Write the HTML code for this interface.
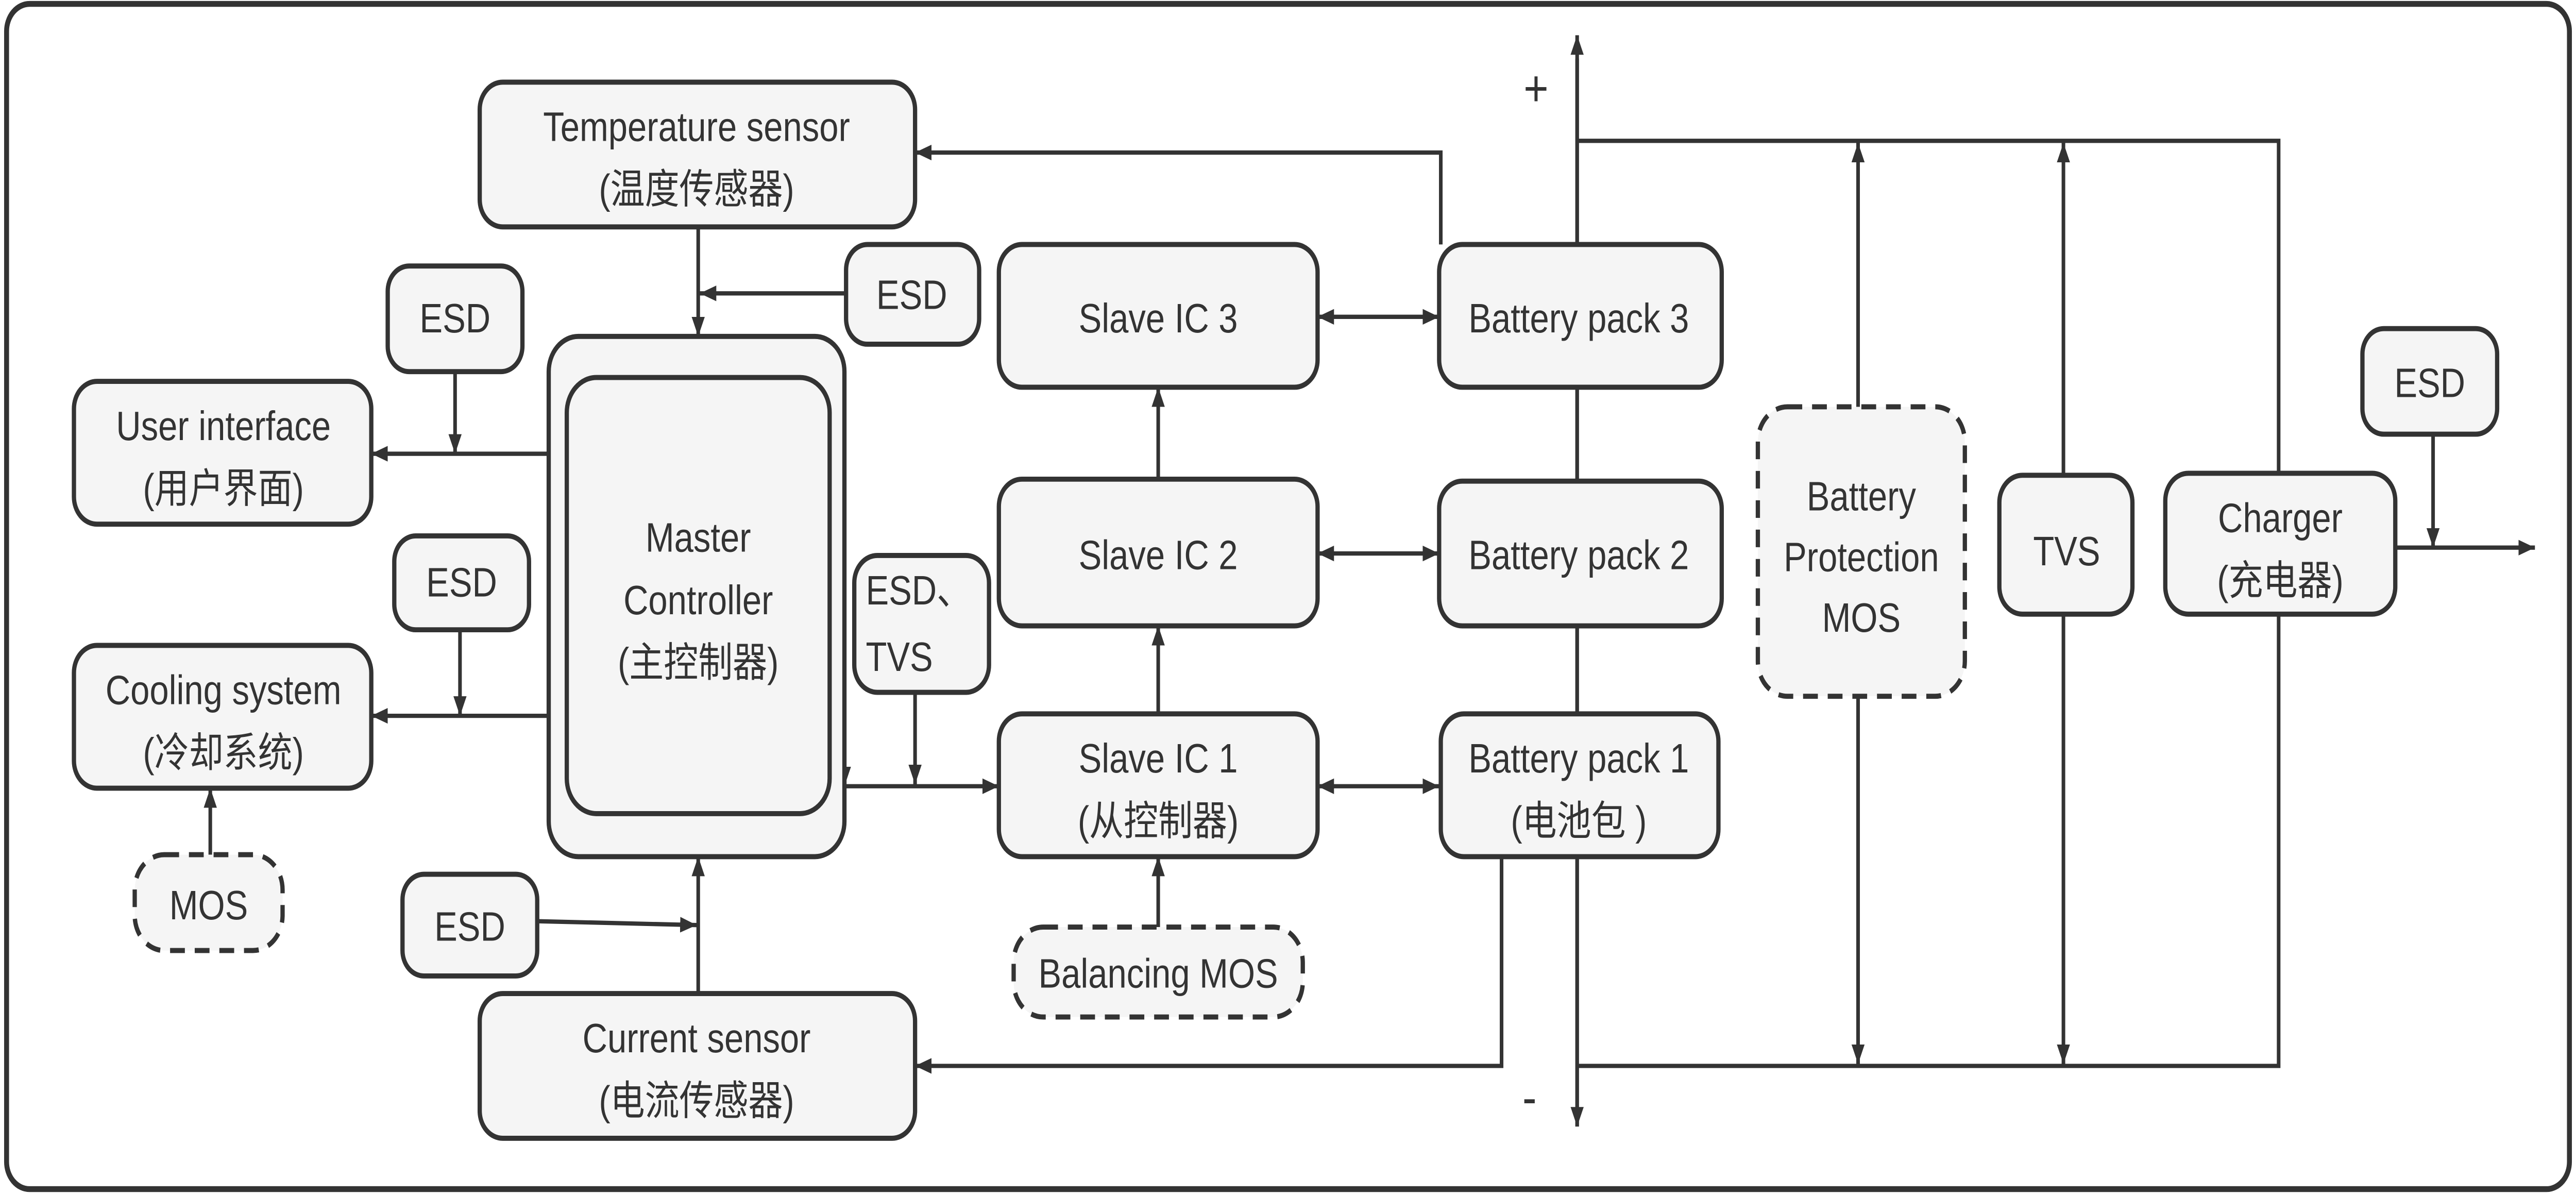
<!DOCTYPE html>
<html><head><meta charset="utf-8"><style>html,body{margin:0;padding:0;background:#fff;width:100%;height:100%;overflow:hidden}svg{display:block;width:100vw;height:100vh}</style></head>
<body>
<svg viewBox="0 0 1568 611" preserveAspectRatio="none" xmlns="http://www.w3.org/2000/svg">
<defs>
<marker id="a" viewBox="0 0 10 8" refX="10" refY="4" markerWidth="10" markerHeight="8" markerUnits="userSpaceOnUse" orient="auto-start-reverse"><path d="M0,0L10,4L0,8z" fill="#333"/></marker>
</defs>
<rect x="4" y="2" width="1560" height="606" rx="14" fill="#fff" stroke="#333" stroke-width="3"/>
<g stroke="#333" stroke-width="2.2" fill="none">
<line x1="960" y1="576" x2="960" y2="18" marker-end="url(#a)"/>
<line x1="960" y1="30" x2="960" y2="576" marker-end="url(#a)"/>
<polyline points="960,72 1387,72 1387,545 960,545"/>
<line x1="1131" y1="208" x2="1131" y2="73" marker-end="url(#a)"/>
<line x1="1131" y1="356" x2="1131" y2="544" marker-end="url(#a)"/>
<line x1="1256" y1="243" x2="1256" y2="73" marker-end="url(#a)"/>
<line x1="1256" y1="314" x2="1256" y2="544" marker-end="url(#a)"/>
<line x1="1458" y1="280" x2="1543" y2="280" marker-end="url(#a)"/>
<line x1="1481" y1="222" x2="1481" y2="280" marker-end="url(#a)"/>
<polyline points="877,125 877,78 557,78" marker-end="url(#a)"/>
<line x1="425" y1="116" x2="425" y2="172" marker-end="url(#a)"/>
<line x1="515" y1="150" x2="426" y2="150" marker-end="url(#a)"/>
<line x1="277" y1="190" x2="277" y2="232" marker-end="url(#a)"/>
<line x1="334" y1="232" x2="226" y2="232" marker-end="url(#a)"/>
<line x1="280" y1="322" x2="280" y2="366" marker-end="url(#a)"/>
<line x1="334" y1="366" x2="226" y2="366" marker-end="url(#a)"/>
<line x1="128" y1="437" x2="128" y2="403" marker-end="url(#a)"/>
<line x1="327" y1="471" x2="424" y2="473" marker-end="url(#a)"/>
<line x1="425" y1="508" x2="425" y2="438" marker-end="url(#a)"/>
<line x1="514" y1="388" x2="514" y2="402" marker-end="url(#a)"/>
<line x1="514" y1="402" x2="608" y2="402" marker-end="url(#a)"/>
<line x1="557" y1="354" x2="557" y2="401" marker-end="url(#a)"/>
<line x1="705" y1="365" x2="705" y2="320" marker-end="url(#a)"/>
<line x1="705" y1="245" x2="705" y2="198" marker-end="url(#a)"/>
<line x1="705" y1="474" x2="705" y2="438" marker-end="url(#a)"/>
<line x1="802" y1="162" x2="876" y2="162" marker-start="url(#a)" marker-end="url(#a)"/>
<line x1="802" y1="283" x2="876" y2="283" marker-start="url(#a)" marker-end="url(#a)"/>
<line x1="802" y1="402" x2="876" y2="402" marker-start="url(#a)" marker-end="url(#a)"/>
<polyline points="914,438 914,545 557,545" marker-end="url(#a)"/>
</g>
<g fill="#f5f5f5" stroke="#333" stroke-width="2.6">
<rect x="292" y="42" width="265" height="74" rx="14"/>
<rect x="515" y="125" width="81" height="51" rx="13"/>
<rect x="236" y="136" width="82" height="54" rx="13"/>
<rect x="45" y="195" width="181" height="73" rx="14"/>
<rect x="334" y="172" width="180" height="266" rx="18"/>
<rect x="345" y="193" width="160" height="223" rx="18"/>
<rect x="240" y="274" width="82" height="48" rx="13"/>
<rect x="45" y="330" width="181" height="73" rx="14"/>
<rect x="245" y="447" width="82" height="52" rx="13"/>
<rect x="292" y="508" width="265" height="74" rx="14"/>
<rect x="520" y="284" width="82" height="70" rx="14"/>
<rect x="608" y="125" width="194" height="73" rx="14"/>
<rect x="608" y="245" width="194" height="75" rx="14"/>
<rect x="608" y="365" width="194" height="73" rx="14"/>
<rect x="876" y="125" width="172" height="73" rx="14"/>
<rect x="876" y="246" width="172" height="74" rx="14"/>
<rect x="877" y="365" width="169" height="73" rx="14"/>
<rect x="1217" y="243" width="81" height="71" rx="14"/>
<rect x="1318" y="242" width="140" height="72" rx="14"/>
<rect x="1438" y="168" width="82" height="54" rx="13"/>
</g>
<g fill="#f5f5f5" stroke="#333" stroke-width="2.6" stroke-dasharray="9,6">
<rect x="82" y="437" width="90" height="49" rx="18"/>
<rect x="617" y="474" width="176" height="46" rx="18"/>
<rect x="1070" y="208" width="126" height="148" rx="18"/>
</g>
<g font-family="'Liberation Sans','Noto Sans CJK SC',sans-serif" font-size="21" fill="#333" text-anchor="middle">
<text x="424" y="72">Temperature sensor</text><text x="424" y="104">(温度传感器)</text>
<text x="555" y="158">ESD</text>
<text x="277" y="170">ESD</text>
<text x="136" y="225">User interface</text><text x="136" y="257">(用户界面)</text>
<text x="425" y="282">Master</text><text x="425" y="314">Controller</text><text x="425" y="346">(主控制器)</text>
<text x="281" y="305">ESD</text>
<text x="136" y="360">Cooling system</text><text x="136" y="392">(冷却系统)</text>
<text x="127" y="470">MOS</text>
<text x="286" y="481">ESD</text>
<text x="424" y="538">Current sensor</text><text x="424" y="570">(电流传感器)</text>
<text x="527" y="309" text-anchor="start">ESD、</text><text x="527" y="343" text-anchor="start">TVS</text>
<text x="705" y="170">Slave IC 3</text>
<text x="705" y="291">Slave IC 2</text>
<text x="705" y="395">Slave IC 1</text><text x="705" y="427">(从控制器)</text>
<text x="705" y="505">Balancing MOS</text>
<text x="961" y="170">Battery pack 3</text>
<text x="961" y="291">Battery pack 2</text>
<text x="961" y="395">Battery pack 1</text><text x="961" y="427">(电池包 )</text>
<text x="1133" y="261">Battery</text><text x="1133" y="292">Protection</text><text x="1133" y="323">MOS</text>
<text x="1258" y="289">TVS</text>
<text x="1388" y="272">Charger</text><text x="1388" y="304">(充电器)</text>
<text x="1479" y="203">ESD</text>
<text x="935" y="54" font-size="26">+</text>
<text x="931" y="570" font-size="26">-</text>
</g>
</svg>
</body></html>
